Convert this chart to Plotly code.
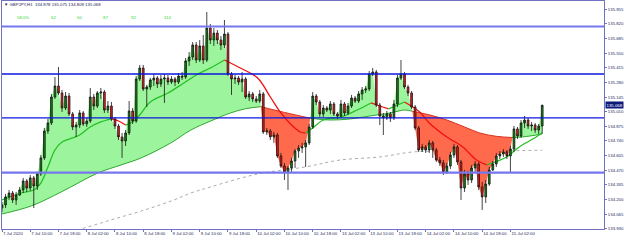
import plotly.graph_objects as go

# ---------------- data ----------------
time_labels = ["7 Jul 2020", "7 Jul 10:00", "7 Jul 18:00", "8 Jul 02:00", "8 Jul 10:00", "8 Jul 18:00",
               "9 Jul 02:00", "9 Jul 10:00", "9 Jul 18:00", "10 Jul 02:00", "10 Jul 10:00", "10 Jul 18:00",
               "13 Jul 02:00", "13 Jul 10:00", "13 Jul 18:00", "14 Jul 02:00", "14 Jul 10:00", "14 Jul 18:00",
               "15 Jul 02:00"]
label_bars = [0, 8, 16, 24, 32, 40, 48, 56, 64, 72, 80, 88, 96, 104, 112, 120, 128, 136, 144]

open_ = [134.123, 134.151, 134.225, 134.261, 134.197, 134.243, 134.289, 134.372, 134.307, 134.400,
         134.326, 134.436, 134.584, 134.832, 134.906, 135.145, 135.246, 135.182, 135.044, 135.154,
         134.989, 134.869, 134.887, 134.998, 134.897, 134.924, 135.145, 135.062, 135.182, 135.191,
         135.025, 135.062, 134.943, 134.878, 134.777, 134.740, 134.814, 135.016, 134.924, 135.311,
         135.412, 135.219, 135.237, 135.302, 135.320, 135.265, 135.311, 135.320, 135.283, 135.311,
         135.283, 135.338, 135.329, 135.477, 135.513, 135.624, 135.486, 135.615, 135.486, 135.780,
         135.670, 135.734, 135.670, 135.624, 135.725, 135.357, 135.311, 135.320, 135.283, 135.311,
         135.145, 135.173, 135.127, 135.108, 135.173, 134.823, 134.832, 134.777, 134.795, 134.602,
         134.510, 134.455, 134.492, 134.556, 134.648, 134.676, 134.685, 134.722, 134.869, 135.154,
         135.099, 134.989, 135.044, 135.025, 135.081, 134.989, 134.970, 135.081, 134.998, 135.062,
         135.136, 135.108, 135.173, 135.210, 135.219, 135.357, 135.375, 135.071, 134.970, 134.952,
         134.989, 134.952, 135.081, 135.320, 135.357, 135.237, 135.182, 135.053, 134.860, 134.657,
         134.685, 134.657, 134.722, 134.657, 134.565, 134.538, 134.455, 134.510, 134.611, 134.685,
         134.547, 134.307, 134.436, 134.381, 134.492, 134.528, 134.317, 134.225, 134.344, 134.473,
         134.528, 134.602, 134.620, 134.639, 134.602, 134.666, 134.851, 134.786, 134.906, 134.933,
         134.878, 134.887, 134.841, 134.878]

high_ = [134.179, 134.252, 134.289, 134.280, 134.271, 134.317, 134.400, 134.390, 134.427, 134.418,
         134.455, 134.611, 134.860, 134.943, 135.173, 135.329, 135.421, 135.210, 135.191, 135.182,
         135.007, 134.915, 135.025, 135.016, 134.952, 135.228, 135.173, 135.200, 135.228, 135.210,
         135.108, 135.099, 134.961, 134.897, 134.814, 134.841, 135.108, 135.044, 135.338, 135.440,
         135.440, 135.256, 135.320, 135.357, 135.338, 135.348, 135.357, 135.348, 135.338, 135.329,
         135.366, 135.375, 135.504, 135.559, 135.651, 135.651, 135.670, 135.716, 135.928, 135.817,
         135.780, 135.762, 135.707, 135.854, 135.743, 135.375, 135.348, 135.338, 135.375, 135.329,
         135.200, 135.191, 135.154, 135.210, 135.191, 134.860, 134.851, 134.823, 134.814, 134.630,
         134.538, 134.510, 134.584, 134.666, 134.703, 134.722, 134.749, 134.897, 135.191, 135.173,
         135.118, 135.071, 135.062, 135.108, 135.099, 135.007, 135.118, 135.099, 135.090, 135.164,
         135.154, 135.200, 135.237, 135.246, 135.384, 135.412, 135.394, 135.090, 134.998, 135.016,
         135.007, 135.118, 135.348, 135.486, 135.375, 135.256, 135.200, 135.071, 134.878, 134.713,
         134.703, 134.749, 134.740, 134.676, 134.593, 134.565, 134.538, 134.639, 134.713, 134.703,
         134.565, 134.473, 134.464, 134.519, 134.556, 134.547, 134.363, 134.381, 134.501, 134.556,
         134.630, 134.648, 134.666, 134.657, 134.694, 134.878, 134.869, 134.933, 134.970, 134.952,
         134.915, 134.906, 134.897, 135.075]

low_ = [134.087, 134.123, 134.197, 134.169, 134.151, 134.234, 134.261, 134.271, 134.280, 134.123,
        134.289, 134.418, 134.565, 134.805, 134.887, 135.127, 135.164, 135.007, 135.025, 134.970,
        134.841, 134.777, 134.860, 134.878, 134.869, 134.906, 135.025, 135.044, 135.127, 134.998,
        134.998, 134.924, 134.851, 134.749, 134.584, 134.694, 134.795, 134.897, 134.906, 135.292,
        135.200, 135.053, 135.210, 135.246, 135.228, 135.237, 135.090, 135.256, 135.265, 135.246,
        135.265, 135.302, 135.311, 135.431, 135.486, 135.458, 135.467, 135.449, 135.467, 135.633,
        135.615, 135.633, 135.578, 135.596, 135.338, 135.164, 135.265, 135.256, 135.191, 135.127,
        135.108, 135.099, 135.090, 135.090, 134.805, 134.795, 134.749, 134.722, 134.584, 134.492,
        134.381, 134.289, 134.455, 134.492, 134.584, 134.630, 134.501, 134.703, 134.851, 135.071,
        134.961, 134.961, 135.007, 134.989, 134.970, 134.943, 134.952, 134.970, 134.979, 135.044,
        135.090, 135.090, 135.118, 135.182, 135.200, 135.338, 135.053, 134.887, 134.795, 134.933,
        134.915, 134.933, 135.053, 135.302, 135.219, 135.154, 135.035, 134.841, 134.639, 134.639,
        134.630, 134.630, 134.584, 134.547, 134.510, 134.427, 134.436, 134.482, 134.584, 134.519,
        134.197, 134.271, 134.335, 134.353, 134.455, 134.289, 134.105, 134.169, 134.326, 134.464,
        134.501, 134.574, 134.593, 134.574, 134.455, 134.639, 134.759, 134.768, 134.860, 134.851,
        134.832, 134.814, 134.805, 134.809]

close_ = [134.151, 134.225, 134.261, 134.197, 134.243, 134.289, 134.372, 134.307, 134.400, 134.326,
          134.436, 134.584, 134.832, 134.906, 135.145, 135.246, 135.182, 135.044, 135.154, 134.989,
          134.869, 134.887, 134.998, 134.897, 134.924, 135.145, 135.062, 135.182, 135.191, 135.025,
          135.062, 134.943, 134.878, 134.777, 134.740, 134.814, 135.016, 134.924, 135.311, 135.412,
          135.219, 135.237, 135.302, 135.320, 135.265, 135.311, 135.320, 135.283, 135.311, 135.283,
          135.338, 135.329, 135.477, 135.513, 135.624, 135.486, 135.615, 135.486, 135.780, 135.670,
          135.734, 135.670, 135.624, 135.725, 135.357, 135.311, 135.320, 135.283, 135.311, 135.145,
          135.173, 135.127, 135.108, 135.173, 134.823, 134.832, 134.777, 134.795, 134.602, 134.510,
          134.455, 134.492, 134.556, 134.648, 134.676, 134.685, 134.722, 134.869, 135.154, 135.099,
          134.989, 135.044, 135.025, 135.081, 134.989, 134.970, 135.081, 134.998, 135.062, 135.136,
          135.108, 135.173, 135.210, 135.219, 135.357, 135.375, 135.071, 134.970, 134.952, 134.989,
          134.952, 135.081, 135.320, 135.357, 135.237, 135.182, 135.053, 134.860, 134.657, 134.685,
          134.657, 134.722, 134.657, 134.565, 134.538, 134.455, 134.510, 134.611, 134.685, 134.547,
          134.307, 134.436, 134.381, 134.492, 134.528, 134.317, 134.225, 134.344, 134.473, 134.528,
          134.602, 134.620, 134.639, 134.602, 134.666, 134.851, 134.786, 134.906, 134.933, 134.878,
          134.887, 134.841, 134.878, 135.068]

# slow moving average (boundary of the cloud), read at sample bars
slow_idx = [0, 8.3, 16.8, 27.2, 33.7, 39.4, 47.8, 53.5, 59.1, 64.7, 69.0, 73.33, 80.0, 87.28, 93.0,
            98.6, 104.2, 109.9, 114.1, 116.2, 121.2, 126.0, 131.0, 135.3, 140.0, 144.57, 148.5, 153]
slow_px = [134.068, 134.142, 134.271, 134.446, 134.519, 134.584, 134.722, 134.841, 134.924, 134.998,
           135.037, 135.056, 135.003, 134.950, 134.933, 134.943, 134.970, 134.998, 135.025, 135.014,
           134.979, 134.933, 134.869, 134.814, 134.783, 134.772, 134.781, 134.805]
# bars where price crosses the slow average
cross_idx = [73.33, 87.28, 116.2, 144.57]
cross_px = [135.056, 134.950, 135.014, 134.772]

# fast moving average (slope coloured)
fast_idx = [0, 5.5, 9, 11, 13, 15, 17, 20, 22, 25, 28, 31, 33, 35, 37, 39, 42, 47, 51.5, 56, 59, 63,
            67.5, 72.4, 76, 79, 82, 84.5, 86, 88, 91, 96, 100.6, 104.5, 107, 109.5, 114, 118.3, 121,
            126, 130.5, 134.4, 137.3, 142.9, 146.5, 151.3, 153]
fast_px = [134.197, 134.261, 134.289, 134.353, 134.501, 134.657, 134.731, 134.768, 134.795, 134.869,
           134.915, 134.943, 134.924, 134.887, 134.915, 134.979, 135.099, 135.182, 135.274, 135.366,
           135.412, 135.486, 135.412, 135.320, 135.145, 134.998, 134.887, 134.823, 134.814, 134.860,
           134.933, 134.961, 135.025, 135.090, 135.062, 135.035, 135.099, 135.007, 134.906, 134.777,
           134.685, 134.565, 134.519, 134.593, 134.685, 134.777, 134.815]

# long average (dotted)
long_idx = [19.6, 30.9, 41.3, 48.7, 53.5, 59.1, 72.4, 85.9, 95.8, 107, 116.4, 126.8, 140, 153]
long_px = [133.902, 134.013, 134.114, 134.197, 134.261, 134.317, 134.436, 134.501, 134.565, 134.593,
           134.639, 134.645, 134.648, 134.655]

levels_major = [135.794, 134.448]
levels_minor = [135.357, 134.952]

price_ticks = [133.930, 134.065, 134.200, 134.335, 134.470, 134.605, 134.740, 134.875, 135.010,
               135.145, 135.280, 135.415, 135.550, 135.685, 135.820, 135.955]

symbol = "GBPJPY,H1"
info_labels = ["58.0%", "62", "60", "87", "92", "114"]

# ---------------- figure ----------------
FONT = "Liberation Sans, Arial, sans-serif"
FS = 4.3
AXC = "#7272c4"
bars = list(range(len(close_)))
XR = [0, 170.5]
YR = [133.9295, 136.029]

fig = go.Figure()

# long dotted average
fig.add_trace(go.Scatter(x=long_idx, y=long_px, mode="lines", line=dict(color="#a2a2a2", width=0.9, dash="dot"),
                         line_shape="spline", hoverinfo="skip"))

# cloud between price and the slow average
bounds = [0] + cross_idx + [bars[-1]]
bound_px = [close_[0]] + cross_px + [close_[-1]]
for k in range(len(bounds) - 1):
    a, b = bounds[k], bounds[k + 1]
    green = (k % 2 == 0)
    sx = [x for x in slow_idx if a - 1e-6 <= x <= b + 1e-6]
    sy = [slow_px[slow_idx.index(x)] for x in sx]
    cx = [a] + [i for i in bars if a < i < b] + [b]
    cy = [bound_px[k]] + [close_[i] for i in bars if a < i < b] + [bound_px[k + 1]]
    fig.add_trace(go.Scatter(x=sx, y=sy, mode="lines", line_shape="spline",
                             line=dict(color="#2fa82f" if green else "#d8321c", width=1), hoverinfo="skip"))
    fig.add_trace(go.Scatter(x=cx, y=cy, mode="lines", line=dict(width=0), fill="tonexty",
                             fillcolor="#9cf59c" if green else "#ff6a4d", hoverinfo="skip"))

# fast average coloured by slope
runs = []
for j in range(len(fast_idx) - 1):
    up = fast_px[j + 1] >= fast_px[j]
    if runs and runs[-1][0] == up:
        runs[-1][1].append(j + 1)
    else:
        runs.append([up, [j, j + 1]])
for up, idxs in runs:
    fig.add_trace(go.Scatter(x=[fast_idx[j] for j in idxs], y=[fast_px[j] for j in idxs], mode="lines",
                             line_shape="spline", line=dict(color="#25c025" if up else "#f01010", width=1.3),
                             hoverinfo="skip"))

# candles on an overlaid axis pair so they sit above the indicators
fig.add_trace(go.Candlestick(x=bars, open=open_, high=high_, low=low_, close=close_,
                             xaxis="x2", yaxis="y2", whiskerwidth=0, hoverinfo="skip",
                             increasing=dict(fillcolor="#0c8c0c", line=dict(color="#151515", width=0.8)),
                             decreasing=dict(fillcolor="#ff1414", line=dict(color="#151515", width=0.8))))

shapes = []
for lv in levels_major:
    shapes.append(dict(type="line", xref="paper", x0=0, x1=1, yref="y", y0=lv, y1=lv,
                       line=dict(color="#7676ee", width=2.2), layer="above"))
for lv in levels_minor:
    shapes.append(dict(type="line", xref="paper", x0=0, x1=1, yref="y", y0=lv, y1=lv,
                       line=dict(color="#0c16e0", width=1.3), layer="above"))

annotations = [
    dict(xref="paper", yref="paper", x=0.0, y=0.9825, xanchor="left", yanchor="middle", showarrow=False,
         text="▼ " + symbol + "  " + " ".join("%.3f" % v for v in (open_[-1], high_[-1], low_[-1], close_[-1])),
         font=dict(family=FONT, size=FS, color="#20204e")),
    dict(xref="paper", yref="y", x=1, y=close_[-1], xanchor="left", yanchor="middle", xshift=1, showarrow=False,
         text="%.3f" % close_[-1], bgcolor="#0e1a78", borderpad=0.6,
         font=dict(family=FONT, size=FS, color="white")),
]
info_x = [0.0216, 0.0781, 0.1213, 0.1645, 0.2110, 0.2658]
for t, xx in zip(info_labels, info_x):
    annotations.append(dict(xref="paper", yref="paper", x=xx, y=0.9298, xanchor="left", yanchor="middle",
                            showarrow=False, text=t, font=dict(family=FONT, size=FS, color="#2ed82e")))

fig.update_layout(
    width=625, height=240, margin=dict(l=2, r=21, t=1, b=11, autoexpand=False),
    paper_bgcolor="white", plot_bgcolor="white", showlegend=False,
    xaxis=dict(range=XR, tickvals=label_bars, ticktext=time_labels, ticks="outside", ticklen=2, tickwidth=1,
               tickcolor=AXC, ticklabelposition="outside right", automargin=False, tickangle=0,
               rangeslider=dict(visible=False),
               tickfont=dict(family=FONT, size=FS, color="#25255a"),
               showgrid=False, zeroline=False, showline=True, linecolor=AXC, linewidth=1, mirror=True),
    yaxis=dict(range=YR, side="right", tickvals=price_ticks, ticktext=["%.3f" % v for v in price_ticks],
               ticks="outside", ticklen=2, tickwidth=1, tickcolor=AXC, automargin=False,
               tickfont=dict(family=FONT, size=FS, color="#25255a"),
               showgrid=False, zeroline=False, showline=True, linecolor=AXC, linewidth=1, mirror=True),
    xaxis2=dict(range=XR, overlaying="x", anchor="y2", visible=False, automargin=False,
                rangeslider=dict(visible=False)),
    yaxis2=dict(range=YR, overlaying="y", anchor="x2", visible=False, automargin=False),
    shapes=shapes, annotations=annotations,
)

fig.write_html("out.html")
